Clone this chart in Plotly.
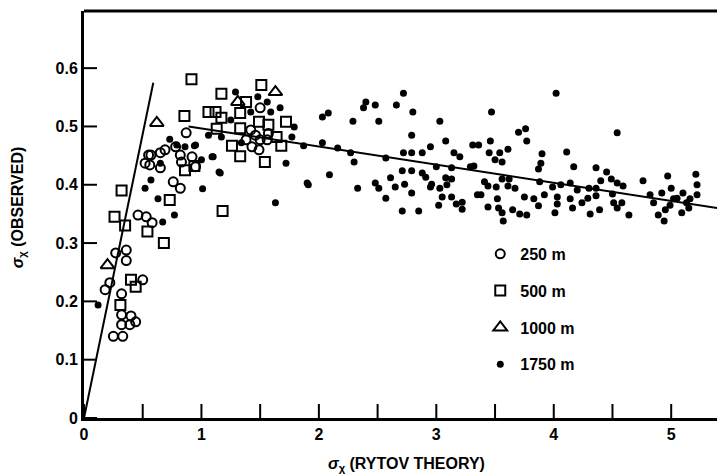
import plotly.graph_objects as go

# ---- data ----
x250 = [0.52, 0.57, 0.65, 0.69, 0.56, 0.65, 0.78, 0.82, 0.83, 0.87, 0.92, 0.95, 0.76, 0.82,
        0.46, 0.53, 0.58, 0.27, 0.36, 0.36, 0.50, 0.18, 0.22, 0.32, 0.32, 0.40, 0.44, 0.32,
        0.39, 0.25, 0.33, 0.55, 1.42, 1.46, 1.50, 1.43, 1.49, 1.56, 1.57, 1.38, 1.50]
y250 = [0.437, 0.451, 0.455, 0.460, 0.434, 0.429, 0.465, 0.451, 0.439, 0.489, 0.448, 0.431, 0.405, 0.394,
        0.348, 0.345, 0.335, 0.283, 0.288, 0.270, 0.237, 0.220, 0.232, 0.213, 0.177, 0.175, 0.165, 0.160,
        0.160, 0.140, 0.140, 0.451, 0.494, 0.485, 0.477, 0.465, 0.460, 0.477, 0.488, 0.477, 0.532]

x500 = [0.915, 0.855, 0.32, 0.26, 0.35, 0.54, 0.68, 0.73, 0.40, 0.44, 0.31, 0.86, 0.94, 1.18,
        1.17, 1.38, 1.51, 1.06, 1.12, 1.17, 1.33, 1.33, 1.49, 1.57, 1.72, 1.13, 1.26, 1.33,
        1.54, 1.68, 1.64]
y500 = [0.581, 0.518, 0.390, 0.345, 0.330, 0.320, 0.300, 0.374, 0.237, 0.225, 0.194, 0.425, 0.432, 0.355,
        0.556, 0.542, 0.571, 0.525, 0.525, 0.515, 0.523, 0.497, 0.508, 0.503, 0.508, 0.496, 0.467, 0.449,
        0.439, 0.467, 0.482]

x1000 = [0.62, 0.20, 1.31, 1.63]
y1000 = [0.506, 0.262, 0.542, 0.559]

x1750 = [0.12, 0.67, 0.77, 0.63, 0.52, 0.57, 0.65, 0.73, 0.79, 0.86, 0.95, 1.00, 1.01, 1.10, 1.16,
         1.29, 1.48, 1.56, 1.42, 1.59, 1.67, 1.25, 1.06, 1.17, 1.34, 1.77, 1.79, 1.87, 0.94, 1.09,
         1.15, 1.72, 1.90, 1.63,
         2.72, 2.40, 2.38, 2.48, 2.66, 2.80, 2.03, 2.08, 2.29, 2.51, 3.03, 2.03, 2.16, 2.27, 2.30,
         2.57, 2.79, 3.08, 3.15, 3.20, 3.31, 2.72, 2.79, 2.88, 2.95, 2.09, 1.91, 2.33, 2.48, 2.51,
         2.61, 2.65, 2.73, 2.79, 2.57, 2.71, 2.79, 2.88, 2.91, 2.96, 3.00, 2.95, 3.03, 3.08, 3.09,
         3.13, 3.13, 3.05, 3.02, 3.13, 3.17, 3.22, 3.22, 2.71, 2.85, 3.35, 3.29,
         4.02, 3.47, 4.54, 3.70, 3.76, 3.77, 3.46, 3.36, 3.61, 3.54, 3.45, 3.50, 3.56, 3.32, 3.90,
         3.89, 3.87, 4.11, 4.17, 4.36, 4.45, 3.41, 3.44, 3.51, 3.56, 3.62, 3.61, 3.67, 3.88, 3.99,
         4.06, 4.14, 4.20, 4.30, 4.40, 4.49, 4.54, 4.59, 4.36, 4.76, 4.97, 5.00, 5.21, 5.22, 5.22,
         3.38, 3.44, 3.52, 3.53, 3.56, 3.57, 3.65, 3.71, 3.77, 3.75, 3.83, 3.87, 3.92, 4.01, 4.03,
         4.03, 4.14, 4.16, 4.24, 4.29, 4.31, 4.36, 4.39, 4.50, 4.51, 4.54, 4.58, 4.64, 4.82, 4.85,
         4.89, 4.92, 4.94, 4.95, 4.99, 5.02, 5.05, 5.09, 5.10, 5.13, 5.15, 5.16]
y1750 = [0.194, 0.336, 0.348, 0.376, 0.394, 0.408, 0.437, 0.478, 0.468, 0.465, 0.468, 0.443, 0.393, 0.448, 0.420,
         0.559, 0.551, 0.542, 0.525, 0.525, 0.532, 0.511, 0.485, 0.482, 0.472, 0.482, 0.499, 0.467, 0.467, 0.448,
         0.422, 0.437, 0.403, 0.369,
         0.557, 0.542, 0.532, 0.537, 0.537, 0.525, 0.516, 0.523, 0.509, 0.509, 0.509, 0.472, 0.463, 0.455, 0.439,
         0.446, 0.485, 0.475, 0.455, 0.448, 0.468, 0.455, 0.455, 0.455, 0.465, 0.417, 0.400, 0.394, 0.403, 0.394,
         0.412, 0.396, 0.401, 0.386, 0.377, 0.424, 0.424, 0.420, 0.413, 0.401, 0.431, 0.396, 0.394, 0.412, 0.400,
         0.410, 0.429, 0.379, 0.365, 0.379, 0.367, 0.370, 0.358, 0.355, 0.355, 0.383, 0.431,
         0.557, 0.525, 0.489, 0.490, 0.496, 0.475, 0.475, 0.468, 0.461, 0.455, 0.455, 0.443, 0.439, 0.432, 0.453,
         0.437, 0.427, 0.456, 0.431, 0.429, 0.422, 0.405, 0.398, 0.396, 0.410, 0.410, 0.398, 0.394, 0.405, 0.396,
         0.400, 0.403, 0.391, 0.394, 0.407, 0.410, 0.403, 0.398, 0.394, 0.407, 0.415, 0.394, 0.418, 0.400, 0.383,
         0.383, 0.362, 0.376, 0.360, 0.352, 0.338, 0.357, 0.350, 0.348, 0.379, 0.376, 0.364, 0.383, 0.352, 0.367,
         0.379, 0.376, 0.360, 0.369, 0.377, 0.350, 0.381, 0.357, 0.384, 0.369, 0.360, 0.369, 0.348, 0.383, 0.369,
         0.348, 0.386, 0.338, 0.357, 0.365, 0.376, 0.377, 0.352, 0.386, 0.369, 0.360, 0.376]

# theory fit lines
line1_x = [0.0, 0.59]
line1_y = [0.0, 0.575]
line2_x = [0.89, 5.40]
line2_y = [0.500, 0.360]

x_ticks = [0, 0.5, 1, 1.5, 2, 2.5, 3, 3.5, 4, 4.5, 5]
x_tick_text = ["<b>0</b>", " ", "<b>1</b>", " ", "<b>2</b>", " ", "<b>3</b>", " ", "<b>4</b>", " ", "<b>5</b>"]
y_ticks = [0, 0.1, 0.2, 0.3, 0.4, 0.5, 0.6]
y_tick_text = ["<b>0</b>", "<b>0.1</b>", "<b>0.2</b>", "<b>0.3</b>", "<b>0.4</b>", "<b>0.5</b>", "<b>0.6</b>"]

FONT = "Liberation Sans"
W, H = 717, 476
M = dict(l=84, r=0, t=11, b=58)
plot_w = W - M["l"] - M["r"]
plot_h = H - M["t"] - M["b"]
XTICK_LEN = 14 / plot_h   # inward tick length as a fraction of the plot height
YTICK_LEN = 13 / plot_w   # inward tick length as a fraction of the plot width

fig = go.Figure()
fig.add_trace(go.Scatter(x=line1_x, y=line1_y, mode="lines", line=dict(color="black", width=2),
                         showlegend=False, hoverinfo="skip"))
fig.add_trace(go.Scatter(x=line2_x, y=line2_y, mode="lines", line=dict(color="black", width=2),
                         showlegend=False, hoverinfo="skip"))

fig.add_trace(go.Scatter(x=x1750, y=y1750, mode="markers", name="<b>1750 m</b>", legendgroup="d", legendrank=4,
                         marker=dict(symbol="circle", size=7, color="black")))
fig.add_trace(go.Scatter(x=x250, y=y250, mode="markers", name="<b>250 m</b>", legendgroup="a", legendrank=1,
                         marker=dict(symbol="circle-open", size=9, color="black", line=dict(width=2))))
fig.add_trace(go.Scatter(x=x500, y=y500, mode="markers", name="<b>500 m</b>", legendgroup="b", legendrank=2,
                         marker=dict(symbol="square-open", size=10, color="black", line=dict(width=2))))
fig.add_trace(go.Scatter(x=x1000, y=y1000, mode="markers", name="<b>1000 m</b>", legendgroup="c", legendrank=3,
                         marker=dict(symbol="triangle-up-open", size=12, color="black", line=dict(width=2))))

# inward tick marks, placed at the axis tick values
tick_shapes = []
for v in x_ticks:
    tick_shapes.append(dict(type="line", xref="x", yref="paper", x0=v, x1=v, y0=0, y1=XTICK_LEN,
                            line=dict(color="black", width=2)))
for v in y_ticks:
    tick_shapes.append(dict(type="line", xref="paper", yref="y", x0=0, x1=YTICK_LEN, y0=v, y1=v,
                            line=dict(color="black", width=2)))
# top frame line
tick_shapes.append(dict(type="line", xref="paper", yref="paper", x0=0, x1=1, y0=1, y1=1,
                        line=dict(color="black", width=3)))

fig.update_layout(
    width=W, height=H,
    margin=M,
    paper_bgcolor="white", plot_bgcolor="white",
    showlegend=True,
    legend=dict(x=0.626, y=0.445, xanchor="left", yanchor="top",
                font=dict(family=FONT, size=16, color="black"),
                tracegroupgap=13, itemsizing="trace", bgcolor="rgba(0,0,0,0)"),
    xaxis=dict(range=[0, 5.39], tickmode="array", tickvals=x_ticks, ticktext=x_tick_text,
               ticks="", showline=True, linewidth=3, linecolor="black",
               showgrid=False, zeroline=False,
               tickfont=dict(family=FONT, size=16, color="black")),
    yaxis=dict(range=[0, 0.698], tickmode="array", tickvals=y_ticks, ticktext=y_tick_text,
               ticks="", showline=True, linewidth=3, linecolor="black",
               showgrid=False, zeroline=False,
               tickfont=dict(family=FONT, size=16, color="black")),
    shapes=tick_shapes,
    annotations=[
        dict(text="<b><i>σ</i><sub>χ</sub> (RYTOV THEORY)</b>", xref="paper", yref="paper",
             x=0.51, y=-0.115, xanchor="center", yanchor="middle", showarrow=False,
             font=dict(family=FONT, size=16, color="black")),
        dict(text="<b><i>σ</i><sub>χ</sub> (OBSERVED)</b>", xref="paper", yref="paper",
             x=-0.104, y=0.518, xanchor="center", yanchor="middle", showarrow=False, textangle=-90,
             font=dict(family=FONT, size=16, color="black")),
    ],
)

fig.write_html("out.html")
